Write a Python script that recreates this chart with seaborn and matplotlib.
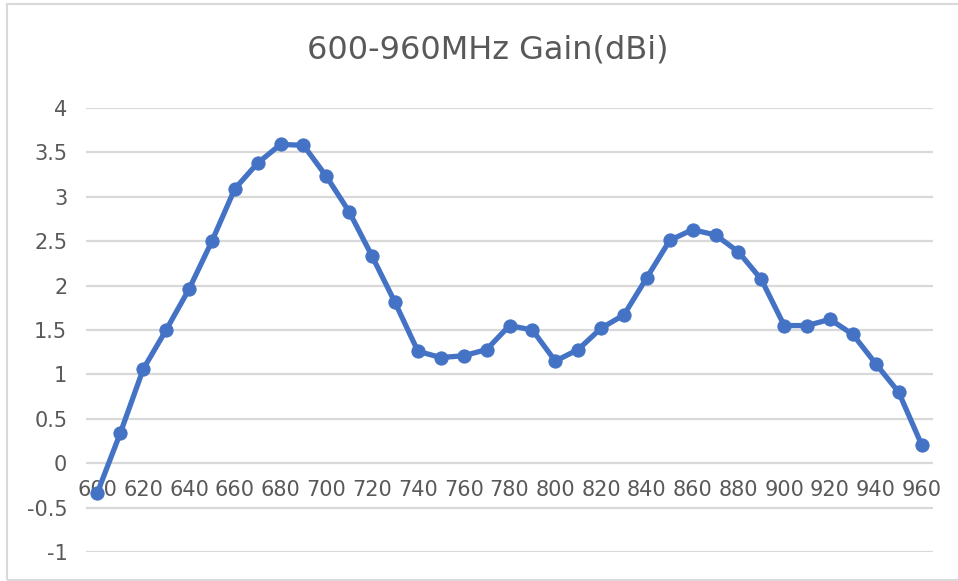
import matplotlib
matplotlib.use("Agg")
import matplotlib.pyplot as plt
import matplotlib.patches as patches
import seaborn as sns
import pandas as pd
import numpy as np

# Frequency points (MHz) and measured gain (dBi)
freq = [600, 610, 620, 630, 640, 650, 660, 670, 680, 690,
        700, 710, 720, 730, 740, 750, 760, 770, 780, 790,
        800, 810, 820, 830, 840, 850, 860, 870, 880, 890,
        900, 910, 920, 930, 940, 950, 960]
gain = [-0.33, 0.34, 1.06, 1.50, 1.96, 2.50, 3.09, 3.38, 3.59, 3.58,
        3.23, 2.83, 2.33, 1.81, 1.26, 1.19, 1.21, 1.28, 1.55, 1.50,
        1.15, 1.28, 1.52, 1.67, 2.09, 2.51, 2.63, 2.57, 2.38, 2.07,
        1.55, 1.55, 1.62, 1.45, 1.12, 0.80, 0.21]
xtick_labels = [600, 620, 640, 660, 680, 700, 720, 740, 760, 780,
                800, 820, 840, 860, 880, 900, 920, 940, 960]
ytick_values = [-1, -0.5, 0, 0.5, 1, 1.5, 2, 2.5, 3, 3.5, 4]

data = pd.DataFrame({"Frequency": freq, "Gain": gain})

sns.set_style("white")
plt.rcParams["font.family"] = ["DejaVu Sans"]

W, H = 958, 581
fig = plt.figure(figsize=(W / 100, H / 100), dpi=100)
ax = fig.add_axes([86 / W, 1 - 552 / H, (933 - 86) / W, (552 - 108) / H])

blue = "#4472C4"
grey_text = "#595959"
grid_col = "#D9D9D9"

# gridlines
for v in ytick_values:
    ax.axhline(v, color=grid_col, linewidth=1.6, zorder=0)

sns.lineplot(data=data, x="Frequency", y="Gain", ax=ax, color=blue,
             linewidth=3.8, marker="o", markersize=9.5,
             markeredgecolor=blue, markerfacecolor=blue, zorder=3)

ax.set_xlim(595, 965)
ax.set_ylim(-1, 4)
ax.set_yticks(ytick_values)
ax.set_yticklabels([("%g" % v) for v in ytick_values])
ax.set_xticks(xtick_labels)
ax.set_xticklabels([str(v) for v in xtick_labels])

for s in ["top", "right", "left"]:
    ax.spines[s].set_visible(False)
ax.spines["bottom"].set_position(("data", 0))
ax.spines["bottom"].set_visible(False)

ax.tick_params(axis="x", length=0, pad=12, labelsize=15, colors=grey_text)
ax.tick_params(axis="y", length=0, pad=13.5, labelsize=15, colors=grey_text)
ax.set_xlabel("")
ax.set_ylabel("")

fig.text(488 / W, 1 - 50 / H, "600-960MHz Gain(dBi)", ha="center", va="center",
         fontsize=23, color=grey_text)

# chart-area border
fig.patches.append(patches.Rectangle((7 / W, 1 / H), 1.2, 1 - 5 / H,
                                     transform=fig.transFigure, fill=False,
                                     edgecolor=grid_col, linewidth=1.5))

fig.savefig("out.png", dpi=100)
